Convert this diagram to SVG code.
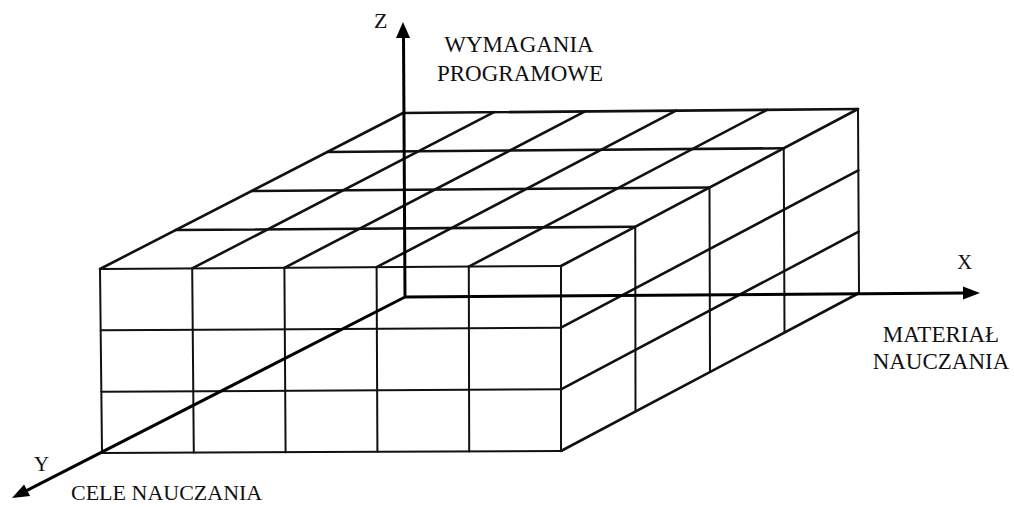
<svg xmlns="http://www.w3.org/2000/svg" width="1014" height="507" viewBox="0 0 1014 507">
<style>
.g{stroke:#111;stroke-width:2;fill:none;stroke-linecap:round}
.t{stroke-width:2.6}
.ax{stroke:#000;stroke-width:3;fill:none}
.ah{fill:#000}
text{font-family:"Liberation Serif","Times New Roman",serif;fill:#111}
</style>
<rect width="1014" height="507" fill="#fff"/>
<g id="cube">
<g id="front" class="g">
<line x1="100" y1="269" x2="102" y2="453"/>
<line x1="192.2" y1="268.4" x2="193.8" y2="452.6"/>
<line x1="284.4" y1="267.8" x2="285.6" y2="452.2"/>
<line x1="376.6" y1="267.2" x2="377.4" y2="451.8"/>
<line x1="468.8" y1="266.6" x2="469.2" y2="451.4"/>
<line x1="561" y1="266" x2="561" y2="451"/>
<line x1="100" y1="269" x2="561" y2="266"/>
<line x1="100.7" y1="330.3" x2="561" y2="327.7"/>
<line x1="101.3" y1="391.7" x2="561" y2="389.3"/>
<line x1="102" y1="453" x2="561" y2="451"/>
</g>
<g id="top" class="g t">
<line x1="175.75" y1="230" x2="635.25" y2="226.75"/>
<line x1="251.5" y1="191" x2="709.5" y2="187.5"/>
<line x1="327.25" y1="152" x2="783.75" y2="148.25"/>
<line x1="403" y1="113" x2="858" y2="109"/>
<line x1="100" y1="269" x2="403" y2="113"/>
<line x1="192.2" y1="268.4" x2="494" y2="112.2"/>
<line x1="284.4" y1="267.8" x2="585" y2="111.4"/>
<line x1="376.6" y1="267.2" x2="676" y2="110.6"/>
<line x1="468.8" y1="266.6" x2="767" y2="109.8"/>
<line x1="561" y1="266" x2="858" y2="109"/>
</g>
<g id="right" class="g">
<line x1="635.25" y1="226.75" x2="635.5" y2="411.5"/>
<line x1="709.5" y1="187.5" x2="710" y2="372"/>
<line x1="783.75" y1="148.25" x2="784.5" y2="332.5"/>
<line x1="858" y1="109" x2="859" y2="293"/>
<line x1="561" y1="327.7" x2="858.3" y2="170.3" class="t"/>
<line x1="561" y1="389.3" x2="858.7" y2="231.7" class="t"/>
<line x1="561" y1="451" x2="859" y2="293" class="t"/>
</g>
</g>
<g id="axes">
<line class="ax" x1="405" y1="297" x2="403.5" y2="36"/>
<polygon class="ah" points="403,22 396,38 410,38"/>
<line class="ax" x1="405" y1="297" x2="966" y2="293.1"/>
<polygon class="ah" points="980,293 963,286.5 963,299.6"/>
<line class="ax" x1="405" y1="297" x2="27" y2="490.3"/>
<polygon class="ah" points="12,498 30.1,496.1 24.1,484.5"/>
</g>
<g id="labels">
<text id="z-label" x="374" y="28" font-size="22">Z</text>
<text id="z-title" x="519" text-anchor="middle" font-size="23"><tspan x="519" y="52">WYMAGANIA</tspan><tspan x="520" y="81">PROGRAMOWE</tspan></text>
<text id="x-label" x="957" y="269" font-size="21">X</text>
<text id="x-title" text-anchor="middle" font-size="23"><tspan x="941" y="342">MATERIAŁ</tspan><tspan x="941" y="369">NAUCZANIA</tspan></text>
<text id="y-label" x="34" y="471" font-size="21">Y</text>
<text id="y-title" x="71" y="500" font-size="22">CELE NAUCZANIA</text>
</g>
</svg>
